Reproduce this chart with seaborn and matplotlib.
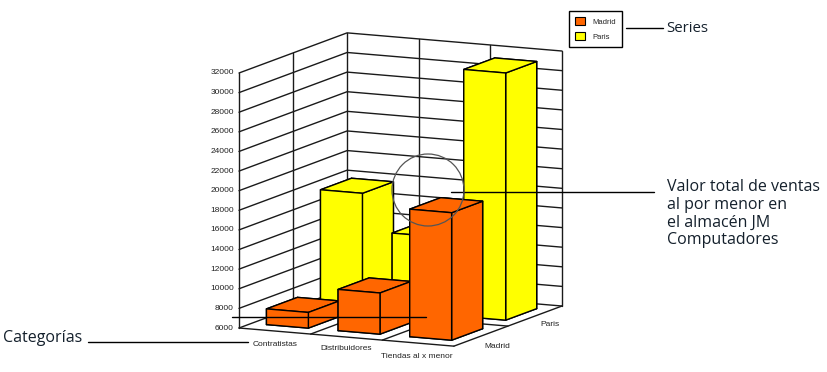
import matplotlib
matplotlib.use('Agg')
import matplotlib.pyplot as plt
from matplotlib.lines import Line2D
from matplotlib.patches import Circle, Patch
from mpl_toolkits.mplot3d import proj3d
import seaborn as sns

categories = ['Contratistas', 'Distribuidores', 'Tiendas al x menor']
series = ['Madrid', 'Paris']
madrid = [7600, 10200, 19000]
paris = [17700, 13900, 31200]
ticks = list(range(6000, 32001, 2000))

orange = '#ff6600'
yellow = '#ffff00'
grid = '#1a1a1a'
label_col = '#222222'
note_col = '#14202c'

sns.set_theme(style='white', font='Liberation Sans')

W, H = 828, 372
fig = plt.figure(figsize=(W / 100, H / 100), dpi=100, facecolor='white')
ax = fig.add_axes([0, 0, 1, 1], projection='3d', computed_zorder=False)
ax.set_proj_type('ortho')
ax.view_init(elev=10.2, azim=-64.5)
ax.set_axis_off()
ax.set_xlim(0, 3)
ax.set_ylim(0, 2)
ax.set_zlim(6000, 32000)
aspect = (238, 251, 259)
ax.set_box_aspect(aspect)


def to_px(x, y, z):
    fig.canvas.draw()
    px, py, _ = proj3d.proj_transform(x, y, z, ax.get_proj())
    sx, sy = ax.transData.transform((px, py))
    return sx, H - sy


def p(x, y):
    return x / W, 1 - y / H


# fit the box to the reference: left wall 255 px tall, its foot at (239, 328)
x0, y0 = to_px(0, 0, 6000)
x1, y1 = to_px(0, 0, 32000)
ax.set_box_aspect(aspect, zoom=255 / (y0 - y1))
x0, y0 = to_px(0, 0, 6000)
ax.set_position([(239 - x0) / W, (y0 - 328) / H, 1, 1])

# walls and floor
for t in ticks:
    ax.plot([0, 0, 3], [0, 2, 2], [t, t, t], color=grid, lw=1, zorder=1)
    tx, ty = to_px(0, 0, t)
    fig.text(*p(tx - 5, ty), str(t), ha='right', va='center', fontsize=6, color=label_col)
for xv in [1, 2, 3]:
    ax.plot([xv, xv], [2, 2], [6000, 32000], color=grid, lw=1, zorder=1)
for yv in [0, 1, 2]:
    ax.plot([0, 0], [yv, yv], [6000, 32000], color=grid, lw=1, zorder=1)
for xv in [1, 2, 3]:
    ax.plot([xv, xv], [0, 2], [6000, 6000], color=grid, lw=1, zorder=1)
for yv in [0, 1]:
    ax.plot([0, 3], [yv, yv], [6000, 6000], color=grid, lw=1, zorder=1)

# bars, back row first
bar_w = 0.585
bar_d = 0.574
order = 2
for row, vals, col in [(1, paris, yellow), (0, madrid, orange)]:
    for i, v in enumerate(vals):
        ax.bar3d(i + 0.5 - bar_w / 2, row + 0.233, 6000, bar_w, bar_d, v - 6000,
                 color=col, edgecolor='black', linewidth=1, shade=False, zorder=order)
        order += 1

# axis labels
for name, xy in zip(categories, [(275, 344), (346, 349), (417, 356)]):
    fig.text(*p(*xy), name, ha='center', va='center', fontsize=6, color=label_col)
for name, xy in zip(series, [(497, 346), (550, 324)]):
    fig.text(*p(*xy), name, ha='center', va='center', fontsize=6, color=label_col)

# legend
handles = [Patch(facecolor=orange, edgecolor='black', linewidth=0.8),
           Patch(facecolor=yellow, edgecolor='black', linewidth=0.8)]
fig.legend(handles, series, loc='upper left', bbox_to_anchor=p(569, 11), fontsize=5.5,
           fancybox=False, framealpha=1, edgecolor='black', borderpad=0.85,
           handlelength=1.2, handleheight=1.2, handletextpad=1.0, labelspacing=0.85,
           borderaxespad=0).get_frame().set_linewidth(1)

# callouts
for xs, ys in [((88, 248), (342, 342)), ((232, 426), (317, 317)),
               ((451, 654), (192, 192)), ((626, 663), (28, 28))]:
    fig.add_artist(Line2D([x / W for x in xs], [1 - y / H for y in ys],
                          color='black', lw=1, zorder=10))
fig.add_artist(Circle((428, H - 190), 36, transform=None, fill=False,
                      edgecolor='#555555', lw=0.9, zorder=10))

note_font = dict(family='Open Sans', color=note_col, va='center', ha='left')
fig.text(*p(3, 338), 'Categorías', fontsize=11.5, **note_font)
fig.text(*p(666, 28), 'Series', fontsize=10.8, **note_font)
for line, y in zip(['Valor total de ventas', 'al por menor en', 'el almacén JM', 'Computadores'],
                   [187, 205, 223, 240]):
    fig.text(*p(667, y), line, fontsize=11.5, **note_font)

fig.savefig('out.png', dpi=100)
